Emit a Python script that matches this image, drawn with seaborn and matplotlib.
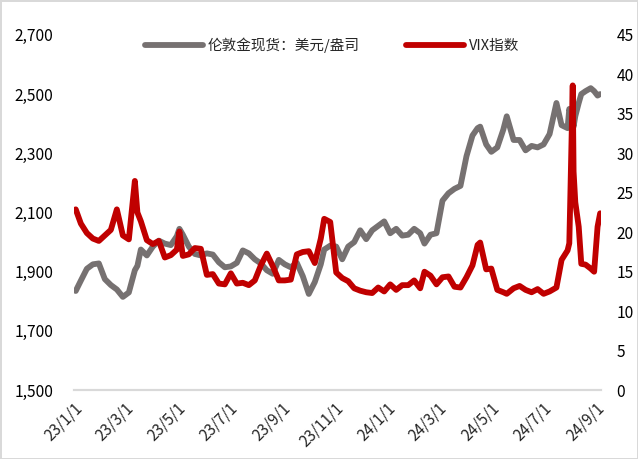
import pandas as pd
import numpy as np
import matplotlib
matplotlib.use("Agg")
import matplotlib.pyplot as plt
import matplotlib.dates as mdates
from matplotlib.ticker import FuncFormatter, MultipleLocator
import seaborn as sns

dates = [
    "2023-01-03", "2023-01-09", "2023-01-16", "2023-01-23", "2023-01-30", "2023-02-06",
    "2023-02-13", "2023-02-20", "2023-02-27", "2023-03-06", "2023-03-13", "2023-03-16",
    "2023-03-20", "2023-03-27", "2023-04-03", "2023-04-10", "2023-04-17", "2023-04-24",
    "2023-05-01", "2023-05-04", "2023-05-08", "2023-05-15", "2023-05-22", "2023-05-29",
    "2023-06-05", "2023-06-12", "2023-06-19", "2023-06-26", "2023-07-03", "2023-07-10",
    "2023-07-17", "2023-07-24", "2023-07-31", "2023-08-07", "2023-08-14", "2023-08-21",
    "2023-08-28", "2023-09-04", "2023-09-11", "2023-09-18", "2023-09-25", "2023-10-02",
    "2023-10-09", "2023-10-16", "2023-10-20", "2023-10-27", "2023-11-03", "2023-11-10",
    "2023-11-17", "2023-11-24", "2023-12-01", "2023-12-08", "2023-12-15", "2023-12-22",
    "2023-12-29", "2024-01-05", "2024-01-12", "2024-01-19", "2024-01-26", "2024-02-02",
    "2024-02-09", "2024-02-14", "2024-02-21", "2024-02-28", "2024-03-06", "2024-03-13",
    "2024-03-20", "2024-03-27", "2024-04-03", "2024-04-10", "2024-04-16", "2024-04-19",
    "2024-04-26", "2024-05-02", "2024-05-09", "2024-05-16", "2024-05-20", "2024-05-28",
    "2024-06-04", "2024-06-11", "2024-06-18", "2024-06-25", "2024-07-02", "2024-07-09",
    "2024-07-17", "2024-07-23", "2024-07-30", "2024-08-01", "2024-08-02", "2024-08-05",
    "2024-08-06", "2024-08-08", "2024-08-12", "2024-08-15", "2024-08-20", "2024-08-26",
    "2024-08-30", "2024-09-03", "2024-09-06",
]

gold = [
    1835, 1870, 1910, 1925, 1928, 1875,
    1855, 1840, 1815, 1830, 1905, 1920,
    1975, 1955, 1985, 2005, 1995, 1990,
    2020, 2045, 2025, 1985, 1960, 1955,
    1962, 1958, 1932, 1915, 1918, 1930,
    1972, 1962, 1942, 1928, 1905, 1893,
    1940, 1925, 1915, 1930, 1885, 1825,
    1865, 1925, 1975, 1988, 1985, 1942,
    1985, 2000, 2040, 2010, 2040, 2055,
    2070, 2030, 2045, 2022, 2025, 2045,
    2030, 1995, 2025, 2030, 2140, 2165,
    2180, 2190, 2290, 2360, 2385, 2390,
    2330, 2305, 2320, 2380, 2425, 2345,
    2345, 2310, 2325, 2320, 2330, 2365,
    2470, 2395, 2385, 2450, 2440, 2410,
    2390, 2425, 2470, 2500, 2510, 2520,
    2510, 2495, 2500,
]

vix = [
    22.9, 21.1, 19.9, 19.2, 18.9, 19.6,
    20.3, 22.9, 19.6, 19.1, 26.5, 22.5,
    21.4, 19.0, 18.5, 18.9, 16.8, 17.1,
    17.8, 20.1, 17.0, 17.2, 18.0, 17.9,
    14.6, 14.7, 13.5, 13.4, 14.8, 13.5,
    13.6, 13.3, 13.9, 15.8, 17.3, 15.7,
    13.9, 13.9, 14.0, 17.2, 17.5, 17.6,
    16.1, 19.2, 21.7, 21.3, 14.9, 14.2,
    13.8, 12.9, 12.6, 12.4, 12.3, 13.0,
    12.5, 13.4, 12.7, 13.3, 13.3, 13.9,
    12.9, 15.0, 14.5, 13.4, 14.3, 14.4,
    13.1, 13.0, 14.3, 15.8, 18.4, 18.7,
    15.3, 15.4, 12.7, 12.4, 12.2, 12.9,
    13.2, 12.7, 12.4, 12.8, 12.2, 12.5,
    13.0, 16.5, 17.7, 18.6, 23.4, 38.6,
    27.7, 23.8, 20.7, 16.0, 15.9, 15.4,
    15.0, 20.7, 22.4,
]

gold_ticks = [1500, 1700, 1900, 2100, 2300, 2500, 2700]

df = pd.DataFrame({"date": pd.to_datetime(dates), "gold": gold, "vix": vix})

sns.set_style("white")
plt.rcParams["font.family"] = ["Noto Sans CJK SC", "DejaVu Sans"]

gray = "#767171"
red = "#C00000"

fig = plt.figure(figsize=(6.38, 4.59), dpi=100)
fig.patch.set_edgecolor("#d9d9d9")
fig.patch.set_linewidth(2)
ax = fig.add_axes([0.116, 0.150, 0.826, 0.774])
ax2 = ax.twinx()

sns.lineplot(data=df, x="date", y="gold", ax=ax, color=gray, lw=4.2,
             label="伦敦金现货：美元/盎司", legend=False)
sns.lineplot(data=df, x="date", y="vix", ax=ax2, color=red, lw=4.2,
             label="VIX指数", legend=False)

ax.set_ylim(1500, 2700)
ax.set_yticks(gold_ticks)
ax.yaxis.set_major_formatter(FuncFormatter(lambda v, p: f"{int(v):,}"))
ax2.set_ylim(0, 45)
ax2.yaxis.set_major_locator(MultipleLocator(5))

ax.set_xlim(pd.Timestamp("2023-01-01"), pd.Timestamp("2024-09-07"))
ax.xaxis.set_major_locator(mdates.MonthLocator(bymonth=[1, 3, 5, 7, 9, 11]))
ax.xaxis.set_major_formatter(FuncFormatter(
    lambda v, p: (lambda d: f"{d.year % 100}/{d.month}/{d.day}")(mdates.num2date(v))))

for a in (ax, ax2):
    for s in ("top", "left", "right"):
        a.spines[s].set_visible(False)
    a.spines["bottom"].set_color("#d9d9d9")
    a.spines["bottom"].set_linewidth(1.5)
    a.set_xlabel("")
    a.set_ylabel("")

ax.tick_params(axis="y", length=0, labelsize=11.2, pad=15, colors="#000000")
ax2.tick_params(axis="y", length=0, labelsize=11.2, pad=11, colors="#000000")
ax.tick_params(axis="x", length=5, width=1.5, color="#d9d9d9", labelsize=11,
               labelrotation=45, pad=2)
for lab in ax.get_xticklabels():
    lab.set_ha("right")
    lab.set_rotation_mode("anchor")

h1, l1 = ax.get_legend_handles_labels()
h2, l2 = ax2.get_legend_handles_labels()
fig.legend(h1 + h2, l1 + l2, loc="center", bbox_to_anchor=(0.52, 0.902), ncol=2,
           frameon=False, fontsize=10.5, handlelength=4, columnspacing=3.2,
           handletextpad=0.3)

fig.savefig("out.png", dpi=100)
